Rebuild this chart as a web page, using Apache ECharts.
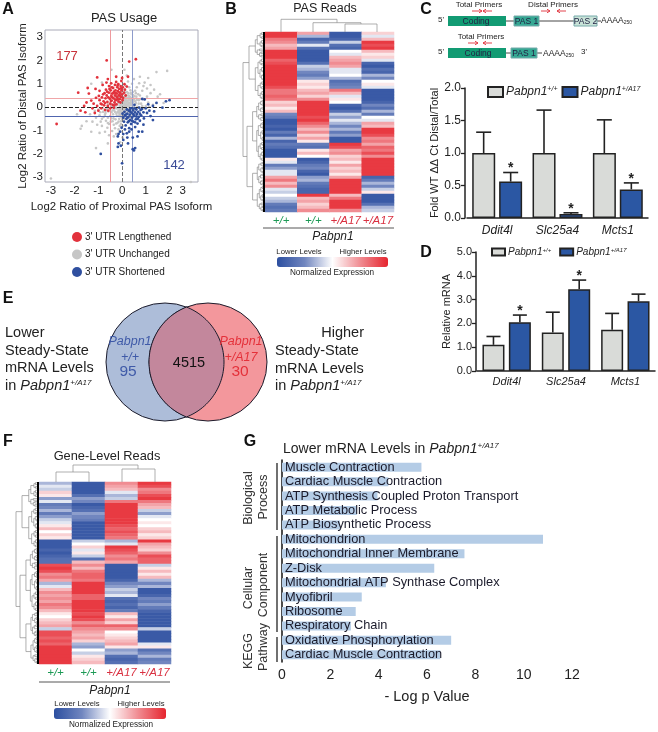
<!DOCTYPE html>
<html><head><meta charset="utf-8">
<style>html,body{margin:0;padding:0;background:#fff}#c{width:658px;height:732px}</style>
<script src="https://cdn.jsdelivr.net/npm/echarts@6/dist/echarts.min.js"></script>
</head><body><div id="c"></div>
<script>
// ---------- Panel A: scatter ----------
const scatterGray=[[0,0],[.05,.1],[-.05,-.1],[.1,-.05],[-.1,.05],[.15,.15],[-.15,-.15],[.2,-.1],[-.2,.1],[.12,.25],[-.12,-.25],[.25,.05],[-.25,-.05],[.3,.2],[-.3,-.2],[.3,-.2],[-.3,.2],[.08,.32],[-.08,-.32],[.18,-.28],[-.18,.28],[.35,.08],[-.35,-.08],[.38,.3],[-.38,-.3],[.22,.38],[-.22,-.38],[.02,.42],[-.02,-.44],[.42,-.05],[-.42,.02],[.45,.2],[-.45,-.22],[.12,.48],[-.12,-.5],[.28,.5],[-.28,-.52],[.5,.35],[-.5,-.38],[.5,.02],[-.5,-.05],[.05,.58],[-.05,-.6],[.4,.55],[-.4,-.6],[.58,.18],[-.58,-.18],[.6,.45],[-.6,-.45],[.2,.65],[-.2,-.68],[.65,.02],[-.65,-.1],[.35,.72],[-.35,-.75],[.7,.3],[-.72,-.32],[.1,.75],[-.1,-.8],[.55,.7],[-.55,-.72],[.8,.15],[-.8,-.2],[.75,.5],[-.85,-.5],[.3,.85],[-.3,-.9],[.9,.35],[-.95,-.35],[.62,.85],[-.62,-.88],[.15,.92],[-.15,-.95],[1,.05],[-1,-.1],[.85,.7],[-.85,-.8],[.42,1],[-.42,-1.02],[1.05,.45],[-1.1,-.45],[1.1,.2],[-1.15,-.15],[.72,1.02],[-.72,-1.05],[1.2,.6],[-1.25,-.62],[.25,1.1],[-.25,-1.15],[1.3,.1],[-1.35,-.3],[.95,1.05],[-.95,-1.1],[.08,.18],[.18,.02],[.28,.14],[-.07,.22],[-.16,.18],[-.26,.12],[.06,-.2],[.16,-.14],[.26,-.08],[-.08,-.18],[-.18,-.06],[-.28,.02],[.04,.28],[.14,.34],[.24,.27],[.34,.17],[-.04,-.27],[-.14,-.36],[-.24,-.28],[-.34,-.12],[.02,.08],[.1,.12],[-.02,-.06],[-.1,-.04],[.12,.05],[-.06,.12],[.07,-.11],[.2,.22],[-.2,-.22],[.32,.32],[.4,.12],[-.4,-.14],[.44,.4],[.14,.42],[-.14,.4],[-.32,.36],[.36,-.35],[-.44,.12],[.5,-.15],[-.52,.14],[.08,-.4],[.2,-.42],[.34,-.46],[-.24,.46],[.6,-.05],[-.6,.1],[-.62,-.02],[.46,.52],[.26,.6],[.12,.62],[-.02,.5],[-.04,.66],[.55,.25],[.7,.15],[.62,.32],[.68,.55],[.78,.35],[-.68,-.58],[-.78,-.42],[-.6,-.68],[-.48,-.62],[-.36,-.48],[-.46,-.48],[-.7,-.25],[-.68,-.14],[-.82,-.04],[-.92,-.22],[-.15,-.62],[-.25,-.7],[-.05,-.72],[.02,-.8],[-.14,-1.1],[-.35,-1.25],[-.55,-1.2],[.02,-1.3],[-.08,-1.5],[-.6,-1.55],[-1.1,-1.75],[-1.7,-.8],[-1.75,-.92],[-1.5,-.6],[-1.3,-1.05],[-1.05,-.75],[-.9,-.62],[-1.9,-.3],[.9,.9],[1.05,.8],[1.2,.95],[1.35,.75],[1.5,.45],[1.6,.55],[1.45,1.5],[1.9,1.55],[.75,1.3],[.5,1.2],[.2,1.35],[1.1,1.25],[1.75,.18],[-.85,1.05],[-1.3,1],[-.45,1.6],[.1,1.6],[2.9,-3.2],[-3,-3.05],[.95,-.05],[1.15,.02],[.85,.05],[.45,.65],[.52,.48],[-.02,.35],[.3,.42],[.58,.6],[.2,.5],[.37,.6],[.03,.05],[.07,-.03],[.13,.09],[.17,-.07],[.22,.12],[.24,-.17],[.29,.03],[.33,-.12],[.37,.22],[.4,-.22],[.43,.06],[.47,.28],[.52,-.06],[.55,.1],[.01,-.17],[.04,-.32],[.11,-.21],[.13,-.35],[-.03,.16],[-.01,.22],[.06,.38],[.16,.28],[.27,.36],[.34,.44],[-.09,-.12],[-.13,-.18],[-.06,-.38],[.01,-.52],[.1,-.5],[.18,.06],[.09,.22],[.31,-.04],[.39,.38],[.48,.46]];
const scatterRed=[[-2.76,-.72],[-.65,2],[.58,2.05],[.3,1.95],[-1.85,.62],[-1.45,.82],[-1.4,.58],[-1.05,1.27],[-.6,1.2],[-.25,1.3],[0,1.25],[.25,1.3],[-1.75,-.15],[-1.6,.05],[-1.55,-.22],[-1.5,.2],[-1.3,.28],[-1.25,-.05],[-1.2,.15],[-1.15,-.25],[-1.1,.4],[-1.05,.05],[-1,-.15],[-.95,.7],[-.95,.3],[-.9,.15],[-.88,-.05],[-.85,.42],[-.82,.95],[-.8,.55],[-.78,.25],[-.76,.08],[-.72,-.12],[-.7,.38],[-.68,.75],[-.66,1.05],[-.65,.5],[-.62,.22],[-.6,.05],[-.58,-.15],[-.56,.62],[-.55,.9],[-.52,.36],[-.5,.15],[-.5,-.05],[-.48,.72],[-.46,1.02],[-.45,.48],[-.44,.28],[-.42,.58],[-.4,.1],[-.38,.82],[-.36,.38],[-.35,-.02],[-.34,.66],[-.32,.2],[-.3,.95],[-.3,.5],[-.28,.72],[-.26,.3],[-.25,1.08],[-.24,.12],[-.22,.58],[-.2,.85],[-.2,.4],[-.18,.68],[-.16,.98],[-.15,.24],[-.14,.5],[-.12,.78],[-.1,.34],[-.08,.62],[-.06,.9],[-.05,.44],[-.03,1.12],[-.02,.72],[0,.55],[.03,.85],[.04,.4],[.08,.62],[.1,.98],[.12,.75],[.15,.5],[.2,.88],[-.58,.42],[-.63,.66],[-.47,.26],[-.41,.42],[-.33,.08],[-.27,.6],[-.23,.45],[-.17,.33],[-.11,.62],[-.07,.2],[.02,.3],[-.74,.6],[-.86,.12],[-.98,.48],[-1.12,.78],[-.72,.18],[-.53,.78],[-.37,.6],[-.43,.85],[-.29,.32],[-.19,.92],[-.09,.5],[-.04,.8]];
const scatterBlue=[[-.9,-2],[0,-2.4],[2,.3],[1.85,.25],[1.7,-0.02],[1.45,.18],[1.3,.05],[1.35,-.18],[1.3,-.55],[1.2,-.38],[1.15,-.15],[1.1,.12],[1.05,-.25],[1,-.05],[.95,.33],[.92,-.48],[.9,-.22],[.85,.35],[.8,-.35],[.78,-.12],[.75,-.58],[.72,-.02],[.7,-.42],[.68,-.2],[.65,-.7],[.62,-.3],[.6,-.1],[.58,-.52],[.55,-.85],[.55,-.22],[.52,.1],[.5,-.38],[.48,-.62],[.46,-.14],[.45,-1.3],[.42,-.45],[.4,-.25],[.38,-.72],[.36,-.05],[.34,-.55],[.32,-.32],[.3,-.9],[.28,-.15],[.26,-.42],[.24,-.65],[.22,-.28],[.2,-.1],[.18,-.5],[.15,-.78],[.12,-.35],[.1,-.2],[.08,-.62],[.05,-.45],[.02,-.28],[.6,-.4],[.48,-.3],[.44,-.05],[.35,-.2],[.54,-.05],[.66,-.5],[.28,-.6],[.22,-.46],[.15,-.32],[.42,-.58],[.32,-.12],[.75,-.28],[.84,-.08],[.55,-.65],[.7,-1.05],[.85,-1.05],[.65,-1.25],[.3,-1.05],[.2,-1.12],[.12,-.95],[.05,-1.15],[-.08,-1.05],[-.15,-1.15],[-.18,-1.25],[-.15,-1.55],[-.05,-1.65],[-.18,-1.7],[.05,-1.4],[.25,-1.55],[.45,-1.8],[.5,-1.85],[.55,-1.75],[.22,-1.3],[-.02,-.88],[.4,-.95],[.9,-.75]];
const lineRedV=-.49, lineBlueV=.43, lineRedH=.37, lineBlueH=-.4;
const scatterXTicks=[-3,-2,-1,0,1,2,2.55], scatterXTickText=['-3','-2','-1','0','1','2','3'];
const scatterYTicks=[-3,-2,-1,0,1,2,3];
const scatterNames=["3' UTR Lengthened","3' UTR Unchanged","3' UTR Shortened"];

// ---------- Panels B and F: heat maps (one array per column, top to bottom) ----------
const heatCols=['+/+','+/+','+/A17','+/A17'];
const pasRead1=[9,9,6,5,3,4,9,9,9,7,8,9,9,9,9,9,9,9,8,6,6,7,6,2,3,1,3,-5,-6,-9,-9,-8,-9,-6,-8,-3,-8,-6,-7,-9,-9,-9,1,-1,-6,-4,-1,-1,4,6,3,5,-1,-2,0,-2,-3,-6,-7,-6];
const pasRead2=[4,-3,-8,-6,-1,-7,-9,-9,-9,-9,-7,-2,-3,-5,-6,-4,1,2,1,3,4,2,5,9,9,9,9,9,8,9,7,5,3,5,2,4,1,-6,-7,1,3,0,-9,-8,-6,-5,-8,-9,-4,-3,-6,-7,-8,-8,9,3,4,2,3,5];
const pasRead3=[-9,-9,-8,-2,-7,-8,0,-1,3,4,5,4,-1,-1,0,-3,-7,-6,-5,6,3,-1,1,0,-8,-9,-7,-2,-4,-1,-3,-5,-3,-6,-4,-9,-9,9,8,4,5,2,3,1,4,2,3,1,4,9,9,9,9,9,3,6,9,9,9,5];
const pasRead4=[2,-1,3,9,8,9,3,1,2,-1,-8,-9,-7,-8,-3,-5,0,1,-1,-9,-9,-9,-9,-8,-5,-7,-3,-6,0,-1,4,3,9,9,8,5,6,4,7,6,8,5,9,9,9,9,9,9,-8,-6,-3,-5,-2,1,-9,-9,-9,-7,-3,-2];
const geneRead1=[-3,-1,-2,2,1,-4,-1,-6,-5,-3,-6,-4,-2,-1,1,3,0,2,1,-9,-9,-9,-8,-9,-8,-7,-7,8,9,8,5,6,4,-3,-1,3,5,4,5,4,6,5,3,1,0,2,3,4,-2,8,8,7,8,7,9,9,9,9,9,9];
const geneRead2=[-9,-9,-9,-9,-7,-4,-5,-9,-8,-7,-4,-5,-6,-9,-9,-9,-9,-9,-9,-2,0,2,-1,1,-2,-7,3,5,3,6,7,7,6,9,9,9,9,7,7,9,9,9,9,8,9,8,5,7,5,4,3,4,2,-3,-4,0,-2,1,2,3];
const geneRead3=[5,4,3,-1,-3,-2,6,9,9,9,9,9,9,9,8,7,8,7,6,-3,-1,9,8,7,5,6,4,-9,-9,-9,-9,-9,-8,-5,-4,-2,-3,-1,-7,-8,-7,-8,-6,3,1,4,2,7,5,0,1,2,3,4,1,-4,-3,-7,-8,-7];
const geneRead4=[9,8,5,6,8,9,6,4,3,-2,-4,-1,0,1,0,2,3,1,2,9,4,3,2,5,8,7,7,-2,1,3,1,3,-3,-5,-3,-9,-9,-8,-5,-6,-4,-6,-8,-9,-9,-9,-9,-9,-2,-9,-9,-9,-9,-1,1,-7,-5,-3,-6,-5];

// ---------- Panels C and D: bars with error caps ----------
const genes=['Ddit4l','Slc25a4','Mcts1'];
const wtName='Pabpn1+/+', mutName='Pabpn1+/A17';
const foldWT=[1,1,1], foldWTErr=[1.32,1.66,1.51];
const foldMut=[.56,.06,.44], foldMutErr=[.70,.08,.54], foldSig=[1,1,1];
const relWT=[1.1,1.62,1.73], relWTErr=[1.45,2.47,2.42];
const relMut=[2.05,3.43,2.93], relMutErr=[2.35,3.82,3.23], relSig=[1,1,0];

// ---------- Panel G ----------
const goTerms=['Muscle Contraction','Cardiac Muscle Contraction','ATP Synthesis Coupled Proton Transport','ATP Metabolic Process','ATP Biosynthetic Process','Mitochondrion','Mitochondrial Inner Membrane','Z-Disk','Mitochondrial ATP Synthase Complex','Myofibril','Ribosome','Respiratory Chain','Oxidative Phosphorylation','Cardiac Muscle Contraction'];
const goValues=[5.77,4.4,3.95,3.1,2.4,10.8,7.55,6.3,4.3,3.3,3.05,2.85,7,6.55];

// ---------- helpers ----------
const FF='"Liberation Sans",Arial,sans-serif';
const TXT='#222';
const G=[];
function t(text,x,y,o={}){G.push({type:'text',x,y,rotation:o.rot||0,z:50,silent:true,style:{text,x:0,y:0,fill:o.color||TXT,fontFamily:FF,fontSize:o.size||12,fontStyle:o.style||'normal',fontWeight:o.weight||'normal',textAlign:o.align||'center',textVerticalAlign:'middle',rich:o.rich}});}
function ln(x1,y1,x2,y2,color,w){G.push({type:'line',z:30,silent:true,shape:{x1,y1,x2,y2},style:{stroke:color||'#8c8c8c',lineWidth:w||.7}});}
function box(x,y,w,h,fill,stroke){G.push({type:'rect',z:40,silent:true,shape:{x,y,width:w,height:h},style:{fill,stroke:stroke||'none',lineWidth:1}});}
function circ(cx,cy,r,fill,stroke){G.push({type:'circle',z:20,silent:true,shape:{cx,cy,r},style:{fill,stroke,lineWidth:1}});}
function richOf(sz,sup,pad){return {i:{fontStyle:'italic',fontFamily:FF,fontSize:sz,color:TXT},s:{fontStyle:'italic',fontFamily:FF,fontSize:sup,color:TXT,verticalAlign:'top',padding:[0,0,pad,0]}};}

const splitR=[.5,.38,.62,.45,.55,.35,.6,.48];
const splitS=[.3,.45,.25,.5,.35,.4];
function dendroTree(yTop,yBot,x,xEnd,i){
  if(yBot-yTop<2.6) return {y:(yTop+yBot)/2,x:xEnd};
  const m=yTop+(yBot-yTop)*splitR[i%splitR.length];
  const nx=Math.min(xEnd,x+Math.max(1.5,(xEnd-x)*splitS[i%splitS.length]));
  const a=dendroTree(yTop,m,nx,xEnd,i+1), b=dendroTree(m,yBot,nx,xEnd,i+3);
  ln(x,a.y,x,b.y); ln(x,a.y,a.x,a.y); ln(x,b.y,b.x,b.y);
  return {y:(a.y+b.y)/2,x};
}
function dendroRoot(x,yTop,ySplit,yBot,xEnd){
  const a=dendroTree(yTop,ySplit,x+6,xEnd,1), b=dendroTree(ySplit,yBot,x+4,xEnd,4);
  ln(x,a.y,x,b.y); ln(x,a.y,a.x,a.y); ln(x,b.y,b.x,b.y);
}
function bracket(x1,x2,y1,y2,y3){ln(x1,y2,x1,y1);ln(x2,y3,x2,y1);ln(x1,y1,x2,y1);}

// ---------- panel letters ----------
[['A',8,10],['B',231,10],['C',426,10],['D',426,253],['E',8,299],['F',8,442],['G',250,442]].forEach(p=>t(p[0],p[1],p[2],{size:16,weight:'bold',color:'#111'}));

// ---------- Panel A text ----------
t('PAS Usage',124,18,{size:13});
t('177',67,56,{size:13,color:'#c8323a'});
t('142',174,165,{size:13,color:'#3a4a96'});

// ---------- Panel B decoration ----------
t('PAS Reads',325,9,{size:12.5});
bracket(345,377,24,32,32);bracket(313,361,22.7,32,24);bracket(281,337,19.3,32,22.7);
dendroRoot(243,32,100,212,263);
box(263,32,2,180,'#000');
ln(263,228,394,228,'#444',.9);
t('Pabpn1',333,237,{size:12,style:'italic'});
t('Lower Levels',299,252,{size:7.7});t('Higher Levels',363,252,{size:7.7});
t('Normalized Expression',332,273,{size:8.2});

// ---------- Panel F decoration ----------
t('Gene-Level Reads',107,456,{size:12.8});
bracket(56,89,472,482,482);bracket(122,155,469,482,482);bracket(73,138,465,472,469);
dendroRoot(16,482,548,664,37);
box(37,482,2,182,'#000');
ln(39,682,170,682,'#444',.9);
t('Pabpn1',110,691,{size:12,style:'italic'});
t('Lower Levels',77,704,{size:7.7});t('Higher Levels',141,704,{size:7.7});
t('Normalized Expression',111,725,{size:8.2});

// ---------- Panel C gene models ----------
const arrowRed='#e0303a';
function arrow(x1,x2,y){ln(x1,y,x2,y,arrowRed,.9);const d=x2>x1?-3:3;ln(x2,y,x2+d,y-1.8,arrowRed,.9);ln(x2,y,x2+d,y+1.8,arrowRed,.9);}
function model(y,cfg){
  ln(448,y+5,cfg.end,y+5,'#333',.9);
  box(448,y,58,10,'#129b73');t('Coding',cfg.cod,y+5.5,{size:8.5,color:'#224'});
  cfg.pas.forEach(p=>{box(p[0],y,p[1],10,p[2],'#7aa');t(p[3],p[0]+p[1]/2,y+5.5,{size:8.5,color:'#224'});});
}
model(16,{end:601,cod:476,pas:[[514,25,'#35a893','PAS 1'],[574,23,'#c9e3d8','PAS 2']]});
model(48,{end:542,cod:478,pas:[[511,26,'#35a893','PAS 1']]});
const richA={a:{fontFamily:FF,fontSize:8.5,color:TXT},b:{fontFamily:FF,fontSize:5,color:TXT,verticalAlign:'bottom'}};
t('{a|AAAA}{b|250}',601,21,{align:'left',rich:richA});
t('{a|AAAA}{b|250}',543,54,{align:'left',rich:richA});
t("5'",441,20,{size:8});t("5'",441,52,{size:8});t("3'",584,52,{size:8});
t('Total Primers',479,5,{size:8});t('Distal Primers',553,5,{size:8});t('Total Primers',481,37,{size:8});
arrow(472,482,11);arrow(492,483,11);arrow(541,550,11);arrow(566,557,11);arrow(468,478,43);arrow(492,483,43);

// ---------- Panel E venn ----------
const vennL=[165,362,59], vennR=[208,362,59];
circ(vennL[0],vennL[1],vennL[2],'#adbdd9','#1c1c2c');
circ(vennR[0],vennR[1],vennR[2],'#f3979c','#1c1c2c');
(function(){
  const dx=(vennR[0]-vennL[0])/2, a=Math.acos(dx/vennL[2]), pts=[];
  for(let k=0;k<=60;k++){const th=-a+2*a*k/60;pts.push([vennL[0]+vennL[2]*Math.cos(th),vennL[1]+vennL[2]*Math.sin(th)]);}
  for(let k=0;k<=60;k++){const th=Math.PI-a+2*a*k/60;pts.push([vennR[0]+vennR[2]*Math.cos(th),vennR[1]+vennR[2]*Math.sin(th)]);}
  G.push({type:'polygon',z:25,silent:true,shape:{points:pts},style:{fill:'#c3879c',stroke:'#1c1c2c',lineWidth:1}});
})();
t('4515',189,363,{size:14.5,color:'#111'});
t('Pabpn1',130,342,{size:12.5,style:'italic',color:'#3f5aa8'});
t('+/+',130,358,{size:12.5,style:'italic',color:'#3f5aa8'});
t('95',128,372,{size:15.5,color:'#3f5aa8'});
t('Pabpn1',241,342,{size:12.5,style:'italic',color:'#e4313a'});
t('+/A17',241,358,{size:12.5,style:'italic',color:'#e4313a'});
t('30',240,372,{size:15.5,color:'#e4313a'});
['Lower','Steady-State','mRNA Levels'].forEach((s,i)=>t(s,5,333+i*17.7,{size:14.5,align:'left'}));
t('in {i|Pabpn1}{s|+/A17}',5,386,{size:14.5,align:'left',rich:richOf(14.5,8,5)});
t('Higher',364,333,{size:14.5,align:'right'});
['Steady-State','mRNA Levels'].forEach((s,i)=>t(s,275,351+i*17.7,{size:14.5,align:'left'}));
t('in {i|Pabpn1}{s|+/A17}',275,386,{size:14.5,align:'left',rich:richOf(14.5,8,5)});

// ---------- Panel G decoration ----------
t('Lower mRNA Levels in {i|Pabpn1}{s|+/A17}',283,449,{size:14,align:'left',rich:richOf(14,8,5)});
[['Biological',249,498],['Process',264,497],['Cellular',249,588],['Component',264,585],['KEGG',249,651],['Pathway',264,647]].forEach(p=>t(p[0],p[1],p[2],{size:12.5,rot:Math.PI/2,color:'#333'}));
ln(277,463,277,530,'#111',1.2);ln(277,536,277,632,'#111',1.2);ln(277,637,277,662,'#111',1.2);

// ---------- option ----------
const heatColor=['#2c4fa0','#7186bf','#ffffff','#f08c92','#e6252e'];
function cells(cols){const out=[];cols.forEach((c,x)=>c.forEach((v,y)=>out.push([x,y,v/10])));return out;}
function heatX(i,grid){return {type:'category',gridIndex:grid,data:heatCols,axisLine:{show:false},axisTick:{show:false},splitArea:{show:false},
  axisLabel:{interval:0,margin:3,fontSize:11.5,fontStyle:'italic',fontFamily:FF,color:(v,idx)=>idx<2?'#1c9a55':'#d93040'}};}
function heatY(rows,grid){return {type:'category',gridIndex:grid,inverse:true,show:false,data:rows.map((_,i)=>i)};}
function errSeries(name,grid,vals,tops,sig,off,capW){
  return {type:'custom',name:name+' error',xAxisIndex:grid,yAxisIndex:grid,z:1,silent:true,
    encode:{x:0,y:1},data:vals.map((v,i)=>[i,tops[i],v,sig?sig[i]:0]),
    renderItem:(p,api)=>{
      const a=api.coord([api.value(0),api.value(1)]),b=api.coord([api.value(0),api.value(2)]);
      const x=a[0]+off,st={stroke:'#222',lineWidth:1.6};
      const ch=[{type:'line',shape:{x1:x,y1:b[1],x2:x,y2:a[1]},style:st},{type:'line',shape:{x1:x-capW/2,y1:a[1],x2:x+capW/2,y2:a[1]},style:st}];
      if(api.value(3)) ch.push({type:'text',x:x,y:a[1]-4,style:{text:'*',fontFamily:FF,fontSize:14,fontWeight:'bold',fill:'#222',textAlign:'center',textVerticalAlign:'middle'}});
      return {type:'group',children:ch};
    }};
}
function barS(name,grid,vals,color,bw,gap){return {type:'bar',name,xAxisIndex:grid,yAxisIndex:grid,data:vals,barWidth:bw,barGap:gap,z:3,itemStyle:{color,borderColor:'#222',borderWidth:1.5}};}
function barLegend(left,top,w,h,gap,sz,sup){return {left,top,itemWidth:w,itemHeight:h,itemGap:gap,icon:'rect',selectedMode:false,data:[wtName,mutName],padding:0,
  formatter:n=>'{i|Pabpn1}{s|'+n.slice(6)+'}',textStyle:{rich:richOf(sz,sup,4),padding:[0,0,0,-2]}};}
function barX(grid,sz,margin){return {type:'category',gridIndex:grid,data:genes,axisTick:{show:false},axisLine:{lineStyle:{color:'#222',width:1.5}},axisLabel:{interval:0,fontStyle:'italic',fontFamily:FF,fontSize:sz,color:TXT,margin}};}
function barY(grid,max,interval,name,sz,nameSz,gap,off){return {type:'value',gridIndex:grid,min:0,max,interval,name,nameLocation:'middle',nameGap:gap,offset:off,nameTextStyle:{fontFamily:FF,fontSize:nameSz,color:TXT},splitLine:{show:false},
  axisLine:{show:true,lineStyle:{color:'#222',width:1.5}},axisTick:{show:true,length:4,lineStyle:{color:'#222',width:1.3}},axisLabel:{fontFamily:FF,fontSize:sz,color:TXT,margin:4,formatter:v=>v.toFixed(1)}};}

const lineStyleOf=(c,type)=>({color:c,width:1,type:type||'solid'});
const scatterLines=[
 {xAxis:lineRedV,lineStyle:lineStyleOf('#ee9a9e')},{xAxis:lineBlueV,lineStyle:lineStyleOf('#8e9ccb')},
 {yAxis:lineRedH,lineStyle:lineStyleOf('#f0a6a8')},{yAxis:lineBlueH,lineStyle:lineStyleOf('#5065ae')},
 {xAxis:0,lineStyle:lineStyleOf('#777','dashed')},{yAxis:0,lineStyle:lineStyleOf('#222','dashed')}];

const option={
 animation:false,backgroundColor:'#fff',textStyle:{fontFamily:FF},
 grid:[
  {left:45,top:30,width:153,height:152,show:true,borderColor:'#a9aab8',borderWidth:1,backgroundColor:'transparent'},
  {left:265,top:32,width:129,height:180},
  {left:39,top:482,width:132,height:182},
  {left:467,top:88,width:181,height:130},
  {left:477,top:252,width:178,height:119},
  {left:282,top:460,width:290,height:202}
 ],
 xAxis:[
  {type:'value',gridIndex:0,min:-3.25,max:3.2,name:'Log2 Ratio of Proximal PAS Isoform',nameLocation:'middle',nameGap:19,nameTextStyle:{fontFamily:FF,fontSize:11.4,color:TXT},splitLine:{show:false},
   axisLine:{show:false},axisTick:{show:false,customValues:scatterXTicks},
   axisLabel:{customValues:scatterXTicks,fontFamily:FF,fontSize:11.5,color:TXT,margin:3,formatter:v=>scatterXTickText[scatterXTicks.indexOf(v)]}},
  heatX(0,1),heatX(0,2),barX(3,12,7),barX(4,11,5),
  {type:'value',gridIndex:5,min:0,max:12,interval:2,name:'- Log p Value',nameLocation:'middle',nameGap:27,nameTextStyle:{fontFamily:FF,fontSize:14.5,color:TXT},splitLine:{show:false},
   axisLine:{lineStyle:{color:'#111',width:1.3}},axisTick:{length:3,lineStyle:{color:'#111'}},axisLabel:{fontFamily:FF,fontSize:14,color:TXT,margin:6,showMaxLabel:true}}
 ],
 yAxis:[
  {type:'value',gridIndex:0,min:-3.2,max:3.3,name:'Log2 Ratio of Distal PAS Isoform',nameLocation:'middle',nameGap:17,nameTextStyle:{fontFamily:FF,fontSize:11.4,color:TXT},splitLine:{show:false},
   axisLine:{show:false},axisTick:{show:false},axisLabel:{customValues:scatterYTicks,fontFamily:FF,fontSize:11.5,color:TXT,margin:2}},
  heatY(pasRead1,1),heatY(geneRead1,2),
  barY(3,2,.5,'Fold WT \u0394\u0394 Ct Distal/Total',12,11,17,2),
  barY(4,5,1,'Relative mRNA',11,11,23,1),
  {type:'category',gridIndex:5,inverse:true,data:goTerms,axisLine:{lineStyle:{color:'#111',width:1.5}},axisTick:{show:false},axisLabel:{show:false}}
 ],
 visualMap:[
  {type:'continuous',min:-1,max:1,seriesIndex:3,orient:'horizontal',left:277,top:257,itemWidth:10,itemHeight:111,calculable:false,hoverLink:false,inRange:{color:heatColor},text:null,padding:0},
  {type:'continuous',min:-1,max:1,seriesIndex:4,orient:'horizontal',left:54,top:708,itemWidth:11,itemHeight:112,calculable:false,hoverLink:false,inRange:{color:heatColor},text:null,padding:0}
 ],
 legend:[
  {left:72,top:232,orient:'vertical',itemWidth:10,itemHeight:10,itemGap:7.5,padding:0,icon:'circle',selectedMode:false,data:scatterNames,textStyle:{fontFamily:FF,fontSize:10,color:TXT,padding:[0,0,0,-2]}},
  barLegend(487,86,15,10,4,12,7),
  barLegend(491,247,13,7,8,10,6)
 ],
 series:[
  {type:'scatter',name:scatterNames[1],xAxisIndex:0,yAxisIndex:0,data:scatterGray,symbolSize:2.6,itemStyle:{color:'#c6c6c6',opacity:1},silent:true,z:2,
   markLine:{silent:true,symbol:'none',label:{show:false},data:scatterLines,z:3}},
  {type:'scatter',name:scatterNames[0],xAxisIndex:0,yAxisIndex:0,data:scatterRed,symbolSize:2.8,itemStyle:{color:'#e2323c',opacity:1},silent:true,z:4},
  {type:'scatter',name:scatterNames[2],xAxisIndex:0,yAxisIndex:0,data:scatterBlue,symbolSize:2.8,itemStyle:{color:'#2f4f9f',opacity:1},silent:true,z:4},
  {type:'heatmap',xAxisIndex:1,yAxisIndex:1,data:cells([pasRead1,pasRead2,pasRead3,pasRead4]),silent:true,progressive:0},
  {type:'heatmap',xAxisIndex:2,yAxisIndex:2,data:cells([geneRead1,geneRead2,geneRead3,geneRead4]),silent:true,progressive:0},
  barS(wtName,3,foldWT,'#d9dbd8',23,'17%'),barS(mutName,3,foldMut,'#2b57a3',23,'17%'),
  errSeries(wtName,3,foldWT,foldWTErr,null,-13.5,15),errSeries(mutName,3,foldMut,foldMutErr,foldSig,13.5,15),
  barS(wtName,4,relWT,'#d9dbd8',22,'20%'),barS(mutName,4,relMut,'#2b57a3',22,'20%'),
  errSeries(wtName,4,relWT,relWTErr,null,-13.2,14),errSeries(mutName,4,relMut,relMutErr,relSig,13.2,14),
  {type:'bar',xAxisIndex:5,yAxisIndex:5,data:goValues,barWidth:9,silent:true,itemStyle:{color:'#b4cce6'},
   label:{show:true,position:'insideLeft',distance:3,formatter:p=>goTerms[p.dataIndex],fontFamily:FF,fontSize:12.8,color:'#1a1a2a'}}
 ],
 graphic:{elements:G}
};
const chart=echarts.init(document.getElementById('c'),null,{renderer:'canvas'});
chart.setOption(option);
</script></body></html>
